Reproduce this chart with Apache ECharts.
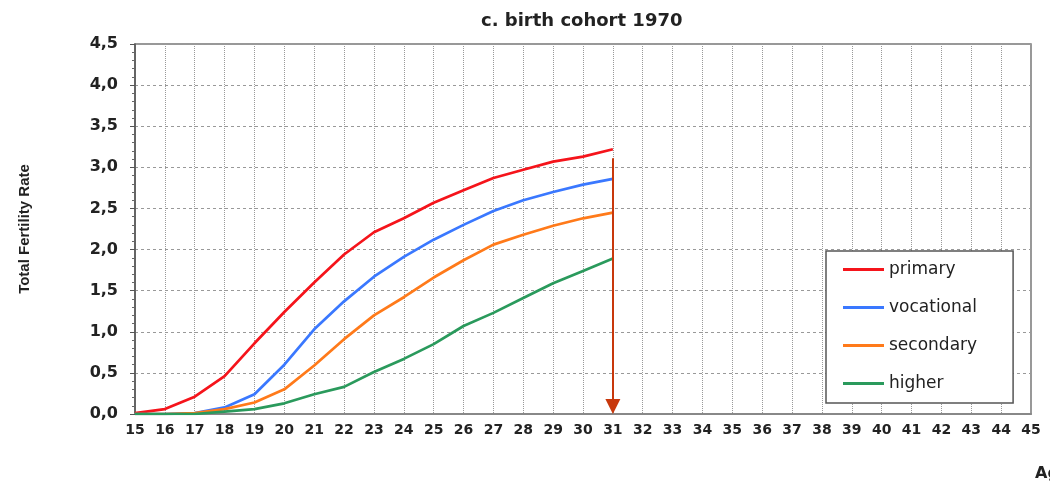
<!DOCTYPE html>
<html>
<head>
<meta charset="utf-8">
<script src="https://cdn.jsdelivr.net/npm/echarts@6/dist/echarts.min.js"></script>
<style>
  html, body { margin: 0; padding: 0; background: #fff; }
  #chart { width: 1050px; height: 485px; }
</style>
</head>
<body>
<div id="chart"></div>
<script>
const ages = ['15', '16', '17', '18', '19', '20', '21', '22', '23', '24', '25', '26', '27', '28', '29', '30',
  '31', '32', '33', '34', '35', '36', '37', '38', '39', '40', '41', '42', '43', '44', '45'];

// cumulated fertility by education, ages 15..31
const primary = [0.01, 0.06, 0.21, 0.46, 0.86, 1.24, 1.60, 1.94, 2.21, 2.38, 2.57, 2.72, 2.87, 2.97, 3.07, 3.13, 3.22];
const vocational = [0.00, 0.00, 0.01, 0.08, 0.24, 0.60, 1.03, 1.37, 1.67, 1.91, 2.12, 2.30, 2.47, 2.60, 2.70, 2.79, 2.86];
const secondary = [0.00, 0.00, 0.01, 0.06, 0.14, 0.30, 0.59, 0.91, 1.20, 1.42, 1.66, 1.87, 2.06, 2.18, 2.29, 2.38, 2.45];
const higher = [0.00, 0.00, 0.00, 0.03, 0.06, 0.13, 0.24, 0.33, 0.51, 0.67, 0.85, 1.07, 1.23, 1.41, 1.59, 1.74, 1.89];

// arrow marking the last observed age (head is centred on the end point)
const arrowAge = '31';
const arrowFrom = 3.11;
const arrowTo = 0.09;

const colors = ['#f5141b', '#3a78ff', '#ff7a1a', '#2a9a5c'];

const chart = echarts.init(document.getElementById('chart'));

function lineSeries(name, data, color) {
  return {
    name: name,
    type: 'line',
    data: data,
    symbol: 'none',
    smooth: false,
    lineStyle: { width: 2.7, color: color },
    itemStyle: { color: color }
  };
}

const series = [
  lineSeries('primary', primary, colors[0]),
  lineSeries('vocational', vocational, colors[1]),
  lineSeries('secondary', secondary, colors[2]),
  lineSeries('higher', higher, colors[3])
];

series[0].markLine = {
  silent: true,
  symbol: ['none', 'triangle'],
  symbolSize: [15, 15],
  label: { show: false },
  lineStyle: { color: '#c8380c', width: 2, type: 'solid' },
  data: [[{ coord: [arrowAge, arrowFrom] }, { coord: [arrowAge, arrowTo] }]]
};

const option = {
  animation: false,
  backgroundColor: '#fff',
  title: {
    text: 'c. birth cohort 1970',
    left: 476,
    top: 7,
    textStyle: { fontFamily: 'DejaVu Sans', fontWeight: 'bold', fontSize: 18, color: '#222' }
  },
  legend: {
    orient: 'vertical',
    left: 826,
    top: 251,
    icon: 'rect',
    itemWidth: 41,
    itemHeight: 3,
    itemGap: 21,
    padding: [10, 36, 11, 17],
    backgroundColor: '#fff',
    borderColor: '#555',
    borderWidth: 1.5,
    textStyle: { fontFamily: 'DejaVu Sans', fontSize: 17, color: '#222' },
    data: ['primary', 'vocational', 'secondary', 'higher']
  },
  grid: {
    left: 135,
    right: 19,
    top: 44,
    bottom: 71,
    outerBoundsMode: 'none',
    containLabel: false,
    show: true,
    borderColor: '#777',
    borderWidth: 1.5
  },
  xAxis: {
    type: 'category',
    data: ages,
    boundaryGap: false,
    name: 'Age',
    nameLocation: 'end',
    nameGap: 4,
    nameTextStyle: {
      fontFamily: 'DejaVu Sans', fontWeight: 'bold', fontSize: 16, color: '#222',
      align: 'left', verticalAlign: 'top', padding: [52, 0, 0, 0]
    },
    axisLine: { lineStyle: { color: '#888', width: 2 } },
    axisTick: { show: false },
    axisLabel: { margin: 9, fontFamily: 'DejaVu Sans', fontWeight: 'bold', fontSize: 14, color: '#222', interval: 0 },
    splitLine: { show: true, lineStyle: { color: '#999', type: 'dotted', width: 1 } }
  },
  yAxis: {
    type: 'value',
    min: 0,
    max: 4.5,
    interval: 0.5,
    name: 'Total Fertility Rate',
    nameLocation: 'middle',
    nameRotate: 90,
    nameGap: 103,
    nameTextStyle: { fontFamily: 'Liberation Sans', fontWeight: 'bold', fontSize: 15, color: '#222' },
    axisLine: { show: true, lineStyle: { color: '#555', width: 1.5 } },
    axisTick: { show: true, length: 5, lineStyle: { color: '#555' } },
    minorTick: { show: true, splitNumber: 5, length: 3, lineStyle: { color: '#666' } },
    axisLabel: {
      margin: 17,
      fontFamily: 'DejaVu Sans',
      fontWeight: 'bold',
      fontSize: 16,
      color: '#222',
      formatter: function (v) { return v.toFixed(1).replace('.', ','); }
    },
    splitLine: { show: true, lineStyle: { color: '#999', type: [3, 3], width: 1 } }
  },
  series: series
};

chart.setOption(option);
</script>
</body>
</html>
